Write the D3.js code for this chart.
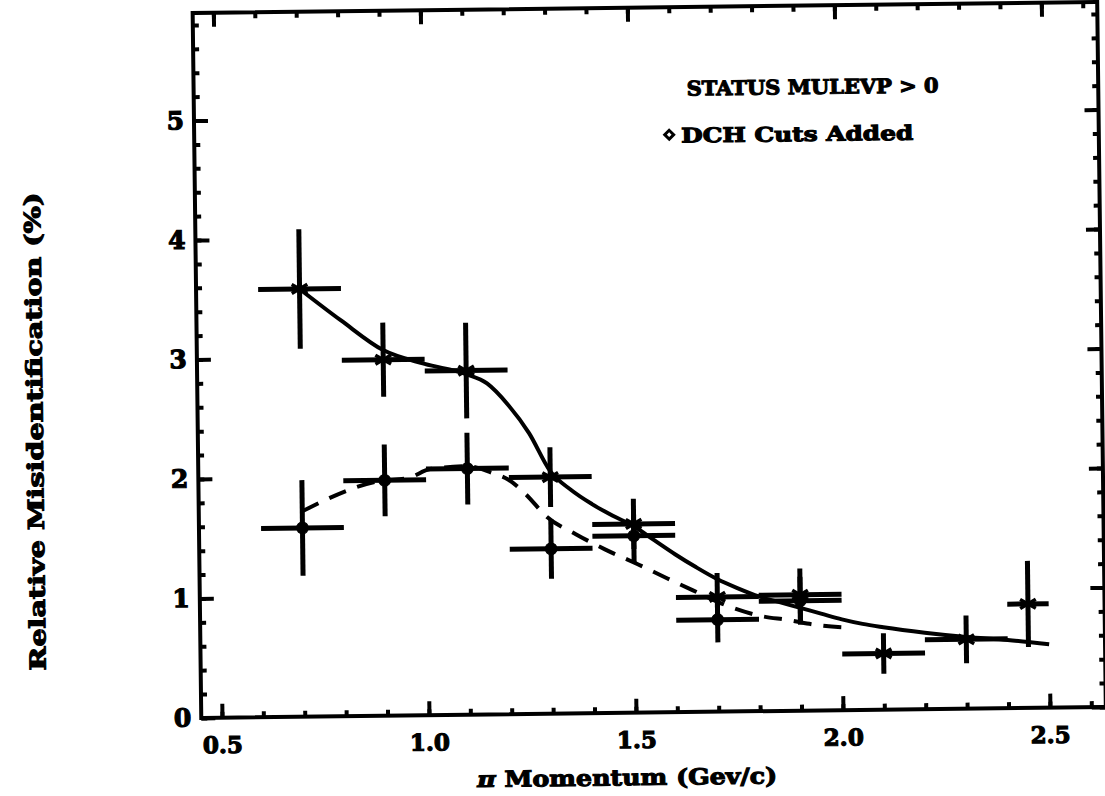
<!DOCTYPE html>
<html>
<head>
<meta charset="utf-8">
<script src="https://cdn.jsdelivr.net/npm/d3@7"></script>
<style>
  body { margin: 0; background: #fff; }
  text { font-family: "DejaVu Serif", serif; font-weight: bold; fill: #000; }
</style>
</head>
<body>
<div id="chart"></div>
<script>
// Chart size, matches the scanned figure
const width = 1105;
const height = 796;

// STATUS MULEVP > 0 (asterisk points, solid fit)
const momentum = [0.7, 0.9, 1.1, 1.3, 1.5, 1.7, 1.9, 2.1, 2.3, 2.45];
const statusVals = [3.58, 2.98, 2.88, 1.98, 1.58, 0.96, 0.97, 0.47, 0.58, 0.87];
const statusErr = [0.50, 0.31, 0.40, 0.25, 0.21, 0.20, 0.22, 0.17, 0.20, 0.36];
const statusBin = [0.1, 0.1, 0.1, 0.1, 0.1, 0.1, 0.1, 0.1, 0.1, 0.05];

// DCH Cuts Added (dot points, dashed fit)
const dchMomentum = [0.7, 0.9, 1.1, 1.3, 1.5, 1.7, 1.9];
const dchVals = [1.58, 1.97, 2.06, 1.38, 1.48, 0.77, 0.92];
const dchErr = [0.40, 0.30, 0.30, 0.25, 0.22, 0.19, 0.20];
const dchBin = [0.1, 0.1, 0.1, 0.1, 0.1, 0.1, 0.1];

// hand drawn fit curves
const fitStatusX = [0.7, 0.8, 0.9, 1.0, 1.1, 1.15, 1.2, 1.25, 1.3, 1.35, 1.4, 1.45, 1.5, 1.55, 1.6, 1.65, 1.7, 1.75, 1.8, 1.85, 1.9, 1.95, 2.0, 2.05, 2.1, 2.2, 2.3, 2.4, 2.5];
const fitStatusY = [3.58, 3.31, 3.06, 2.94, 2.85, 2.77, 2.59, 2.35, 2.03, 1.87, 1.75, 1.65, 1.56, 1.44, 1.32, 1.21, 1.11, 1.03, 0.96, 0.91, 0.86, 0.81, 0.76, 0.72, 0.69, 0.64, 0.60, 0.57, 0.53];
const fitDchX = [0.7, 0.88, 0.96, 1.01, 1.1, 1.16, 1.2, 1.24, 1.29, 1.36, 1.43, 1.51, 1.58, 1.64, 1.72, 1.8, 1.87, 1.95, 2.02];
const fitDchY = [1.72, 1.96, 1.99, 2.06, 2.08, 2.02, 1.96, 1.84, 1.65, 1.50, 1.37, 1.24, 1.12, 1.02, 0.89, 0.80, 0.76, 0.71, 0.69];

// ticks
const xTicks = [0.5, 1.0, 1.5, 2.0, 2.5];
const xTickLabels = ["0.5", "1.0", "1.5", "2.0", "2.5"];
const yTicks = [0, 1, 2, 3, 4, 5];
const xMinor = d3.range(0.5, 2.65, 0.1);
const yMinor = d3.range(0, 5.9, 0.2);

const svg = d3.select("#chart")
  .append("svg")
  .attr("width", width)
  .attr("height", height);

svg.append("rect").attr("width", width).attr("height", height).attr("fill", "#fff");

// the scan is tilted a little, keep that
const g = svg.append("g").attr("transform", "rotate(-0.7, 648, 365)");

// scales
const x = d3.scaleLinear().domain([0.45, 2.635]).range([197, 1101.6]);
const y = d3.scaleLinear().domain([0, 5.9]).range([712.5, 7.5]);

const pLeft = x(0.45), pRight = x(2.635), pTop = y(5.9), pBottom = y(0);

// minor ticks on all four sides
function minorAxis(axis, ticks, tr) {
  g.append("g")
    .attr("transform", tr)
    .call(axis.tickValues(ticks).tickSize(-6).tickFormat(""))
    .call(s => s.select(".domain").remove())
    .call(s => s.selectAll("line").attr("stroke-width", 4));
}
minorAxis(d3.axisBottom(x), xMinor, `translate(0,${pBottom})`);
minorAxis(d3.axisTop(x), xMinor, `translate(0,${pTop})`);
minorAxis(d3.axisLeft(y), yMinor, `translate(${pLeft},0)`);
minorAxis(d3.axisRight(y), yMinor, `translate(${pRight},0)`);

// major ticks
g.append("g")
  .attr("transform", `translate(0,${pBottom})`)
  .call(d3.axisBottom(x).tickValues(xTicks).tickSize(-14).tickPadding(19)
        .tickFormat((d, i) => xTickLabels[i]))
  .call(s => s.select(".domain").remove())
  .call(s => s.selectAll("line").attr("stroke-width", 4))
  .call(s => s.selectAll("text").attr("font-size", 23).attr("font-family", null)
        .attr("stroke", "#000").attr("stroke-width", 1.2));

g.append("g")
  .attr("transform", `translate(0,${pTop})`)
  .call(d3.axisTop(x).tickValues(xTicks).tickSize(-14).tickFormat(""))
  .call(s => s.select(".domain").remove())
  .call(s => s.selectAll("line").attr("stroke-width", 4));

g.append("g")
  .attr("transform", `translate(${pLeft},0)`)
  .call(d3.axisLeft(y).tickValues(yTicks).tickSize(-14).tickPadding(10)
        .tickFormat(d3.format("d")))
  .call(s => s.select(".domain").remove())
  .call(s => s.selectAll("line").attr("stroke-width", 4))
  .call(s => s.selectAll("text").attr("font-size", 25).attr("font-family", null)
        .attr("stroke", "#000").attr("stroke-width", 1.2));

g.append("g")
  .attr("transform", `translate(${pRight},0)`)
  .call(d3.axisRight(y).tickValues(yTicks).tickSize(-14).tickFormat(""))
  .call(s => s.select(".domain").remove())
  .call(s => s.selectAll("line").attr("stroke-width", 4));

// frame
g.append("rect")
  .attr("x", pLeft).attr("y", pTop)
  .attr("width", pRight - pLeft).attr("height", pBottom - pTop)
  .attr("fill", "none").attr("stroke", "#000").attr("stroke-width", 4);

// fit curves
const line = d3.line().x(d => x(d[0])).y(d => y(d[1])).curve(d3.curveMonotoneX);

g.append("path")
  .datum(d3.zip(fitStatusX, fitStatusY))
  .attr("d", line)
  .attr("fill", "none").attr("stroke", "#000").attr("stroke-width", 4);

g.append("path")
  .datum(d3.zip(fitDchX, fitDchY))
  .attr("d", line)
  .attr("fill", "none").attr("stroke", "#000").attr("stroke-width", 4)
  .attr("stroke-dasharray", "18,12");

// error bars + markers
function drawSeries(xs, vals, errs, bins, symbol, size, filled) {
  const data = xs.map((d, i) => ({x: d, v: vals[i], e: errs[i], b: bins[i]}));
  const s = g.append("g");
  s.selectAll(".hbar").data(data).enter().append("line")
    .attr("x1", d => x(d.x - d.b)).attr("x2", d => x(d.x + d.b))
    .attr("y1", d => y(d.v)).attr("y2", d => y(d.v))
    .attr("stroke", "#000").attr("stroke-width", 5);
  s.selectAll(".vbar").data(data).enter().append("line")
    .attr("x1", d => x(d.x)).attr("x2", d => x(d.x))
    .attr("y1", d => y(d.v - d.e)).attr("y2", d => y(d.v + d.e))
    .attr("stroke", "#000").attr("stroke-width", 5);
  s.selectAll(".mark").data(data).enter().append("path")
    .attr("transform", d => `translate(${x(d.x)},${y(d.v)})`)
    .attr("d", d3.symbol(symbol).size(size))
    .attr("fill", filled ? "#000" : "none")
    .attr("stroke", "#000").attr("stroke-width", filled ? 1 : 3.5);
}
drawSeries(momentum, statusVals, statusErr, statusBin, d3.symbolAsterisk, 230, false);
drawSeries(dchMomentum, dchVals, dchErr, dchBin, d3.symbolCircle, 110, true);

// legend text
g.append("text")
  .attr("x", 690).attr("y", 96)
  .attr("font-size", 20).attr("stroke", "#000").attr("stroke-width", 1.1)
  .attr("textLength", 252).attr("lengthAdjust", "spacingAndGlyphs")
  .text("STATUS MULEVP > 0");

g.append("path")
  .attr("transform", "translate(672,135) rotate(45)")
  .attr("d", d3.symbol(d3.symbolSquare).size(40))
  .attr("fill", "#fff").attr("stroke", "#000").attr("stroke-width", 3);

g.append("text")
  .attr("x", 684).attr("y", 143)
  .attr("font-size", 20).attr("stroke", "#000").attr("stroke-width", 1.1)
  .attr("textLength", 232).attr("lengthAdjust", "spacingAndGlyphs")
  .text("DCH Cuts Added");

// axis titles
const xTitle = g.append("text")
  .attr("x", 622).attr("y", 785)
  .attr("text-anchor", "middle")
  .attr("font-size", 22).attr("stroke", "#000").attr("stroke-width", 1.1)
  .attr("textLength", 300).attr("lengthAdjust", "spacingAndGlyphs");
xTitle.append("tspan").attr("font-style", "italic").text("\u03c0");
xTitle.append("tspan").text(" Momentum (Gev/c)");

g.append("text")
  .attr("transform", "translate(42,424) rotate(-90)")
  .attr("text-anchor", "middle")
  .attr("font-size", 22).attr("stroke", "#000").attr("stroke-width", 1.1)
  .attr("textLength", 478).attr("lengthAdjust", "spacingAndGlyphs")
  .text("Relative Misidentification (%)");
</script>
</body>
</html>
